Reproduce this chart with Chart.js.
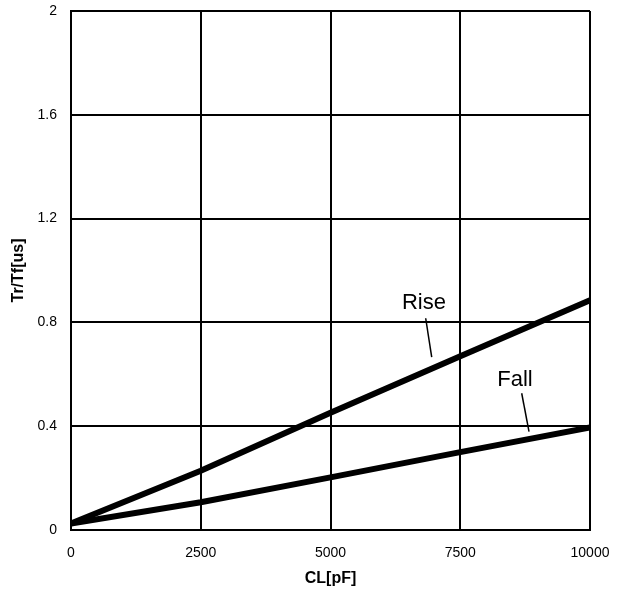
<!DOCTYPE html>
<html><head><meta charset="utf-8">
<script src="https://cdn.jsdelivr.net/npm/chart.js@4"></script>
<style>html,body{margin:0;padding:0;background:#fff}#wrap{width:629px;height:594px}</style>
</head><body><div id="wrap"><canvas id="c"></canvas></div>
<script>
const capLoad = [0, 2500, 5000, 7500, 10000];
const riseTime = [0.025, 0.228, 0.452, 0.67, 0.885];
const fallTime = [0.025, 0.107, 0.203, 0.3, 0.395];
const xTicks = [0, 2500, 5000, 7500, 10000];
const yTicks = [0, 0.4, 0.8, 1.2, 1.6, 2];
const labels = [
  {text: 'Rise', x: 6800, y: 0.875, lx1: 6834, ly1: 0.816, lx2: 6950, ly2: 0.666},
  {text: 'Fall', x: 8555, y: 0.578, lx1: 8684, ly1: 0.527, lx2: 8825, ly2: 0.379}
];
const FONT = '"Liberation Sans", Arial, Helvetica, sans-serif';

const annot = {
  id: 'annot',
  afterDatasetsDraw(chart) {
    const {ctx, scales: {x, y}} = chart;
    ctx.save();
    ctx.fillStyle = '#000';
    ctx.strokeStyle = '#000';
    ctx.lineWidth = 1.5;
    ctx.font = '22px ' + FONT;
    ctx.textAlign = 'center';
    ctx.textBaseline = 'middle';
    labels.forEach(l => {
      ctx.fillText(l.text, x.getPixelForValue(l.x), y.getPixelForValue(l.y));
      ctx.beginPath();
      ctx.moveTo(x.getPixelForValue(l.lx1), y.getPixelForValue(l.ly1));
      ctx.lineTo(x.getPixelForValue(l.lx2), y.getPixelForValue(l.ly2));
      ctx.stroke();
    });
    ctx.restore();
  }
};

new Chart(document.getElementById('c'), {
  type: 'line',
  data: {
    datasets: [
      {label: 'Rise', data: capLoad.map((v, i) => ({x: v, y: riseTime[i]})), borderColor: '#000', borderWidth: 6, pointRadius: 0, tension: 0},
      {label: 'Fall', data: capLoad.map((v, i) => ({x: v, y: fallTime[i]})), borderColor: '#000', borderWidth: 6, pointRadius: 0, tension: 0}
    ]
  },
  options: {
    responsive: true,
    maintainAspectRatio: false,
    animation: false,
    layout: {padding: {left: 0, right: 39, top: 11, bottom: 0}},
    plugins: {legend: {display: false}, tooltip: {enabled: false}},
    scales: {
      x: {
        type: 'linear', min: 0, max: 10000,
        afterBuildTicks(s) { s.ticks = xTicks.map(v => ({value: v})); },
        afterFit(s) { s.height = 64; s.paddingLeft = 0; s.paddingRight = 0; },
        grid: {color: '#000', lineWidth: 2, drawTicks: false},
        border: {color: '#000', width: 2},
        ticks: {color: '#000', font: {family: FONT, size: 14}, padding: 15, maxRotation: 0, callback: v => String(v)},
        title: {display: true, text: 'CL[pF]', color: '#000', font: {family: FONT, size: 16, weight: 'bold'}, padding: {top: 0, bottom: 6}}
      },
      y: {
        type: 'linear', min: 0, max: 2,
        afterBuildTicks(s) { s.ticks = yTicks.map(v => ({value: v})); },
        afterFit(s) { s.width = 71; s.paddingTop = 0; s.paddingBottom = 0; },
        grid: {color: '#000', lineWidth: 2, drawTicks: false},
        border: {color: '#000', width: 2},
        ticks: {color: '#000', font: {family: FONT, size: 14}, padding: 14, callback: v => String(v)},
        title: {display: true, text: 'Tr/Tf[us]', color: '#000', font: {family: FONT, size: 16, weight: 'bold'}, padding: {top: 9, bottom: 0}}
      }
    }
  },
  plugins: [annot]
});
</script>
</body></html>
